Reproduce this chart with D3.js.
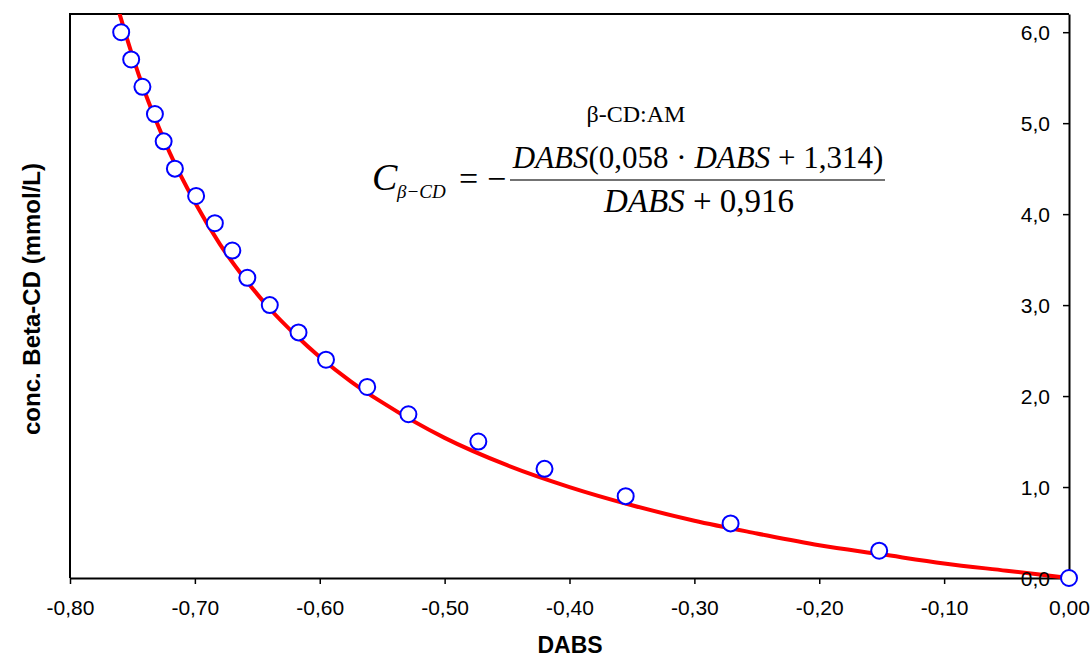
<!DOCTYPE html>
<html>
<head>
<meta charset="utf-8">
<script src="https://cdn.jsdelivr.net/npm/d3@7"></script>
<style>
  body { margin: 0; background: #fff; }
  svg { display: block; }
  .axis text { font-family: Arial, "Liberation Sans", sans-serif; fill: #000; }
  .eq { font-family: "Times New Roman", "Liberation Serif", serif; fill: #000; }
</style>
</head>
<body>
<svg id="chart"></svg>
<script>
// measured points (DABS vs conc. Beta-CD)
var dabs = [-0.759, -0.751, -0.742, -0.732, -0.725, -0.716, -0.699, -0.684, -0.670, -0.658,
  -0.640, -0.617, -0.595, -0.562, -0.529, -0.473, -0.420, -0.355, -0.271, -0.152, 0]
var conc = [6.0, 5.7, 5.4, 5.1, 4.8, 4.5, 4.2, 3.9, 3.6, 3.3,
  3.0, 2.7, 2.4, 2.1, 1.8, 1.5, 1.2, 0.9, 0.6, 0.3, 0]

// red fitted line
var fitDabs = [-0.7605, -0.75, -0.74, -0.73, -0.72, -0.70, -0.68, -0.66, -0.64, -0.62, -0.60,
  -0.575, -0.55, -0.50, -0.45, -0.40, -0.35, -0.30, -0.25, -0.20, -0.15, -0.10, -0.05, 0]
var fitConc = [6.21, 5.74, 5.34, 4.99, 4.67, 4.13, 3.67, 3.29, 2.96, 2.68, 2.43,
  2.16, 1.93, 1.54, 1.24, 1.00, 0.80, 0.63, 0.49, 0.36, 0.26, 0.16, 0.08, 0]

var xTicks = [-0.8, -0.7, -0.6, -0.5, -0.4, -0.3, -0.2, -0.1, 0]
var yTicks = [0, 1, 2, 3, 4, 5, 6]

function drawChart(){
  var width = 1091, height = 658
  var margin = {left: 70, right: 1069, top: 14, bottom: 578}

  var svg = d3.select('#chart').attr('width', width).attr('height', height)

  var x = d3.scaleLinear().domain([-0.8, 0]).range([margin.left, margin.right])
  var y = d3.scaleLinear().domain([0, 6.2]).range([margin.bottom, margin.top])

  var comma = f => v => d3.format(f)(v).replace('.', ',').replace('−', '-')

  svg.append('clipPath').attr('id', 'clip')
    .append('rect')
    .attr('x', margin.left).attr('y', margin.top)
    .attr('width', margin.right - margin.left).attr('height', margin.bottom - margin.top + 4)

  // frame: top + left border
  svg.append('path')
    .attr('d', `M${margin.left},${margin.bottom}V${margin.top}H${margin.right}`)
    .attr('fill', 'none').attr('stroke', '#000').attr('stroke-width', 2)

  var xAxis = svg.append('g').attr('class', 'axis')
    .attr('transform', `translate(0,${margin.bottom})`)
    .call(d3.axisBottom(x).tickValues(xTicks).tickFormat(comma('.2f')).tickSize(6).tickSizeOuter(0).tickPadding(22))
  xAxis.select('.domain').attr('stroke', '#000').attr('stroke-width', 2)
  xAxis.selectAll('.tick line').attr('stroke', '#000').attr('stroke-width', 1.5)
  xAxis.selectAll('text').attr('font-size', 21).attr('dy', '0.42em')

  var yAxis = svg.append('g').attr('class', 'axis')
    .attr('transform', `translate(${margin.right},0)`)
    .call(d3.axisLeft(y).tickValues(yTicks).tickFormat(comma('.1f')).tickSize(6).tickSizeOuter(0).tickPadding(13))
  yAxis.select('.domain').attr('stroke', '#000').attr('stroke-width', 2)
  yAxis.selectAll('.tick line').attr('stroke', '#000').attr('stroke-width', 1.5)
  yAxis.selectAll('text').attr('font-size', 21).attr('dy', '0.36em')

  // fitted curve
  var line = d3.line().x((d, i) => x(fitDabs[i])).y(d => y(d)).curve(d3.curveMonotoneX)
  svg.append('path').datum(fitConc)
    .attr('clip-path', 'url(#clip)')
    .attr('d', line)
    .attr('fill', 'none').attr('stroke', '#ff0000').attr('stroke-width', 4)
    .attr('stroke-linejoin', 'round')

  // keep the 0,0 label above the red line
  yAxis.raise()

  svg.append('g').selectAll('circle').data(conc).join('circle')
    .attr('cx', (d, i) => x(dabs[i]))
    .attr('cy', d => y(d))
    .attr('r', 8)
    .attr('fill', '#fff').attr('stroke', '#0000ff').attr('stroke-width', 2)

  // axis titles
  svg.append('text')
    .attr('x', 570).attr('y', 653)
    .attr('text-anchor', 'middle')
    .attr('font-family', 'Arial, "Liberation Sans", sans-serif')
    .attr('font-weight', 'bold').attr('font-size', 23)
    .text('DABS')

  svg.append('text')
    .attr('transform', 'translate(40,299) rotate(-90)')
    .attr('text-anchor', 'middle')
    .attr('font-family', 'Arial, "Liberation Sans", sans-serif')
    .attr('font-weight', 'bold').attr('font-size', 24)
    .text('conc. Beta-CD (mmol/L)')

  // equation
  var eq = svg.append('g').attr('class', 'eq')

  eq.append('text').attr('x', 636).attr('y', 122).attr('text-anchor', 'middle')
    .attr('font-size', 24).text('β-CD:AM')

  eq.append('text').attr('x', 372).attr('y', 190)
    .attr('font-size', 38).attr('font-style', 'italic').text('C')
  eq.append('text').attr('x', 397).attr('y', 198)
    .attr('font-size', 19).attr('font-style', 'italic').text('β−CD')
  eq.append('text').attr('x', 459).attr('y', 190)
    .attr('font-size', 34).text('=')
  eq.append('text').attr('x', 487).attr('y', 190)
    .attr('font-size', 34).text('−')

  eq.append('line')
    .attr('x1', 510).attr('x2', 885).attr('y1', 180).attr('y2', 180)
    .attr('stroke', '#444').attr('stroke-width', 1.5)

  var num = eq.append('text').attr('x', 698).attr('y', 168).attr('text-anchor', 'middle')
    .attr('font-size', 31)
  num.append('tspan').attr('font-style', 'italic').text('DABS')
  num.append('tspan').text('(0,058 \u00b7 ')
  num.append('tspan').attr('font-style', 'italic').text('DABS')
  num.append('tspan').text(' + 1,314)')

  var den = eq.append('text').attr('x', 699).attr('y', 212).attr('text-anchor', 'middle')
    .attr('font-size', 33)
  den.append('tspan').attr('font-style', 'italic').text('DABS')
  den.append('tspan').text(' + 0,916')
}

drawChart()
</script>
</body>
</html>
